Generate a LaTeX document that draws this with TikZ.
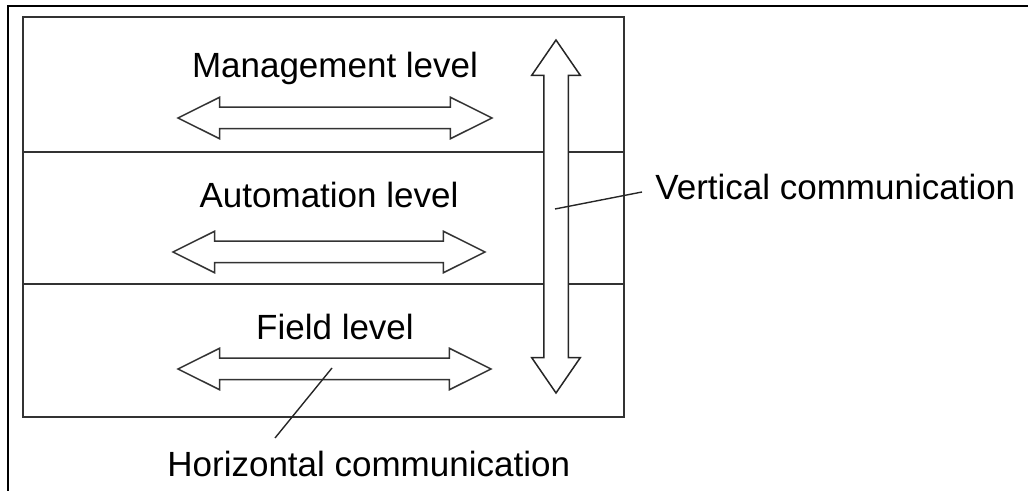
\documentclass[tikz,border=0pt]{standalone}
\usepackage{fontspec}
\setmainfont{Liberation Sans}
\usetikzlibrary{shapes.arrows}

\begin{document}
\begin{tikzpicture}[x=0.5pt,y=-0.5pt,
	line join=miter,
	frame/.style={line width=1.3pt,black},
	levelbox/.style={line width=0.8pt,black!80},
	leader/.style={line width=0.7pt,black!85},
	label/.style={inner sep=0pt,font=\fontsize{17.5pt}{21pt}\selectfont},
	harrow/.style={double arrow,draw=black!80,line width=0.75pt,fill=white,
		inner sep=0pt,inner ysep=5pt,minimum width=0pt,
		double arrow head extend=5pt,double arrow tip angle=53},
	varrow/.style={double arrow,draw=black!85,line width=0.75pt,fill=white,
		inner sep=0pt,inner ysep=5.75pt,minimum width=0pt,minimum height=176.5pt,
		double arrow head extend=6pt,double arrow tip angle=69,rotate=90}]

		\useasboundingbox (0,0) rectangle (1028,491);

		% outer frame
		\draw[frame] (8,491) -- (8,6) -- (1028,6);

		% box with the three levels
		\draw[levelbox] (23,17) rectangle (624,417);
		\draw[levelbox] (23,152) -- (624,152);
		\draw[levelbox] (23,284) -- (624,284);

		% level names
		\node[label,anchor=base] (mgmt) at (335,78) {Management level};
		\node[label,anchor=base] (auto) at (329,208) {Automation level};
		\node[label,anchor=base] (field) at (335,340) {Field level};

		% horizontal arrows
		\node[harrow,minimum height=157pt] (mgmtarrow) at (335,118) {};
		\node[harrow,minimum height=156pt] (autoarrow) at (329,252) {};
		\node[harrow,minimum height=156.5pt] (fieldarrow) at (334.5,369) {};

		% vertical arrow
		\node[varrow] (vertarrow) at (556,216.5) {};

		% descriptions
		\node[label,anchor=base west] (vtext) at (655,200) {Vertical communication};
		\node[label,anchor=base west] (htext) at (167,476) {Horizontal communication};

		% leader lines
		\coordinate (vend) at (555,209);
		\coordinate (hend) at (332,368);
		\draw[leader] ([shift={(-13,-8)}]vtext.base west) -- (vend);
		\draw[leader] ([shift={(108,-38)}]htext.base west) -- (hend);

	\end{tikzpicture}
\end{document}
